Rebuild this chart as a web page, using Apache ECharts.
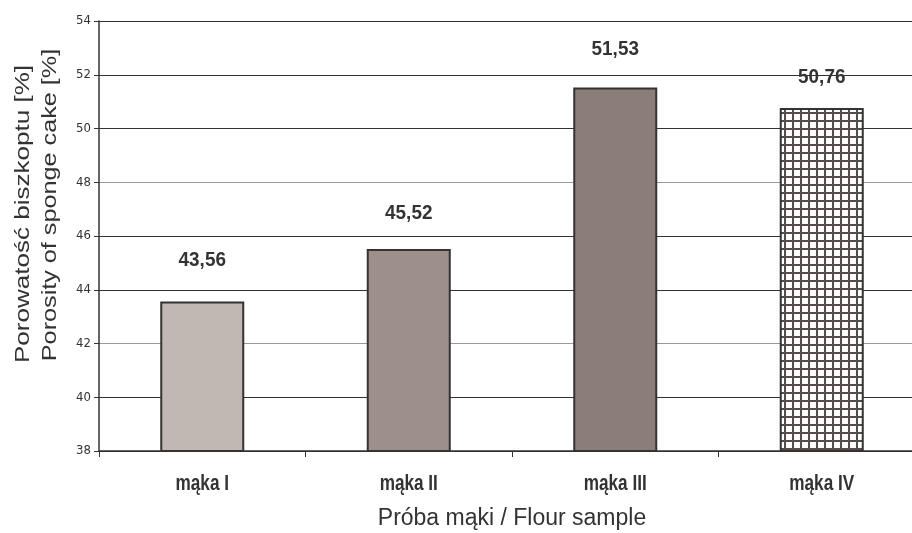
<!DOCTYPE html>
<html>
<head>
<meta charset="utf-8">
<script src="https://cdn.jsdelivr.net/npm/echarts@6/dist/echarts.min.js"></script>
<style>
  html, body { margin: 0; padding: 0; background: #fff; }
  #chart { width: 912px; height: 533px; }
</style>
</head>
<body>
<div id="chart"></div>
<script>
// Porosity of sponge cake for each flour sample
const categories = ['mąka I', 'mąka II', 'mąka III', 'mąka IV'];
const porosity = [43.56, 45.52, 51.53, 50.76];
const yTicks = { min: 38, max: 54, step: 2 };

const yName1 = 'Porowatość biszkoptu [%]';
const yName2 = 'Porosity of sponge cake [%]';
const xName = 'Próba mąki / Flour sample';

// Styling
const barColors = ['#c1b7b3', '#9d908b', '#8b7d78', null];
const labelLift = [41, 36, 38, 31];   // px between bar top and value label centre
const sans = "'Liberation Sans', Arial, Helvetica, sans-serif";
const narrow = "'DejaVu Sans Condensed', 'Liberation Sans', sans-serif";
const ink = '#333';

// Crosshatch fill for the last bar
function hatch() {
  const c = document.createElement('canvas');
  c.width = 8; c.height = 8;
  const g = c.getContext('2d');
  g.fillStyle = '#ffffff';
  g.fillRect(0, 0, 8, 8);
  g.fillStyle = '#574d4b';
  g.fillRect(0, 0, 2, 8);
  g.fillRect(0, 0, 8, 2);
  return c;
}

const chart = echarts.init(document.getElementById('chart'), null, { renderer: 'canvas' });

const barData = porosity.map((v, i) => ({
  value: v,
  itemStyle: {
    color: barColors[i] ? barColors[i] : { image: hatch(), repeat: 'repeat' }
  }
}));

chart.setOption({
  animation: false,
  backgroundColor: '#ffffff',
  // the plot runs a little past the right edge of the canvas
  grid: { left: 99, width: 826, top: 21, height: 430, containLabel: false, outerBoundsMode: 'none' },
  xAxis: {
    type: 'category',
    data: categories,
    boundaryGap: true,
    axisLine: { lineStyle: { color: ink, width: 1.5 } },
    axisTick: { show: true, length: 6, lineStyle: { color: ink } },
    axisLabel: { show: false }
  },
  yAxis: {
    type: 'value',
    min: yTicks.min,
    max: yTicks.max,
    interval: yTicks.step,
    axisLine: { show: true, lineStyle: { color: ink, width: 1.5 } },
    axisTick: { show: true, length: 5, lineStyle: { color: ink } },
    axisLabel: {
      margin: 8,
      fontFamily: narrow,
      fontSize: 13,
      color: ink
    },
    splitLine: {
      show: true,
      lineStyle: {
        color: ['#333', '#333', '#999', '#333', '#333', '#999', '#333', '#333', '#333'],
        width: 1
      }
    }
  },
  series: [{
    type: 'bar',
    data: barData,
    barWidth: 84,
    itemStyle: { borderColor: ink, borderWidth: 2 }
  }]
});

// Category and value labels placed through the chart's own scales
const texts = [];
categories.forEach((name, i) => {
  const [px, py] = chart.convertToPixel({ xAxisIndex: 0, yAxisIndex: 0 }, [i, porosity[i]]);
  texts.push({
    type: 'text', x: px, y: 483.5, scaleX: 0.78,
    style: {
      text: name, align: 'center', verticalAlign: 'middle',
      font: 'bold 22px ' + sans, fill: ink
    }
  });
  texts.push({
    type: 'text', x: px, y: py - labelLift[i], scaleX: 0.9,
    style: {
      text: porosity[i].toFixed(2).replace('.', ','),
      align: 'center', verticalAlign: 'middle',
      font: 'bold 21px ' + sans, fill: ink
    }
  });
});

// Axis titles
texts.push(
  {
    type: 'text', x: 23, y: 214, rotation: Math.PI / 2, scaleX: 1.24,
    style: {
      text: yName1, align: 'center', verticalAlign: 'middle',
      font: '21px ' + sans, fill: ink
    }
  },
  {
    type: 'text', x: 50, y: 205, rotation: Math.PI / 2, scaleX: 1.2,
    style: {
      text: yName2, align: 'center', verticalAlign: 'middle',
      font: '21px ' + sans, fill: ink
    }
  },
  {
    type: 'text', x: 512, y: 519,
    style: {
      text: xName, align: 'center', verticalAlign: 'middle',
      font: '23px ' + sans, fill: ink
    }
  }
);

chart.setOption({ graphic: texts });
</script>
</body>
</html>
